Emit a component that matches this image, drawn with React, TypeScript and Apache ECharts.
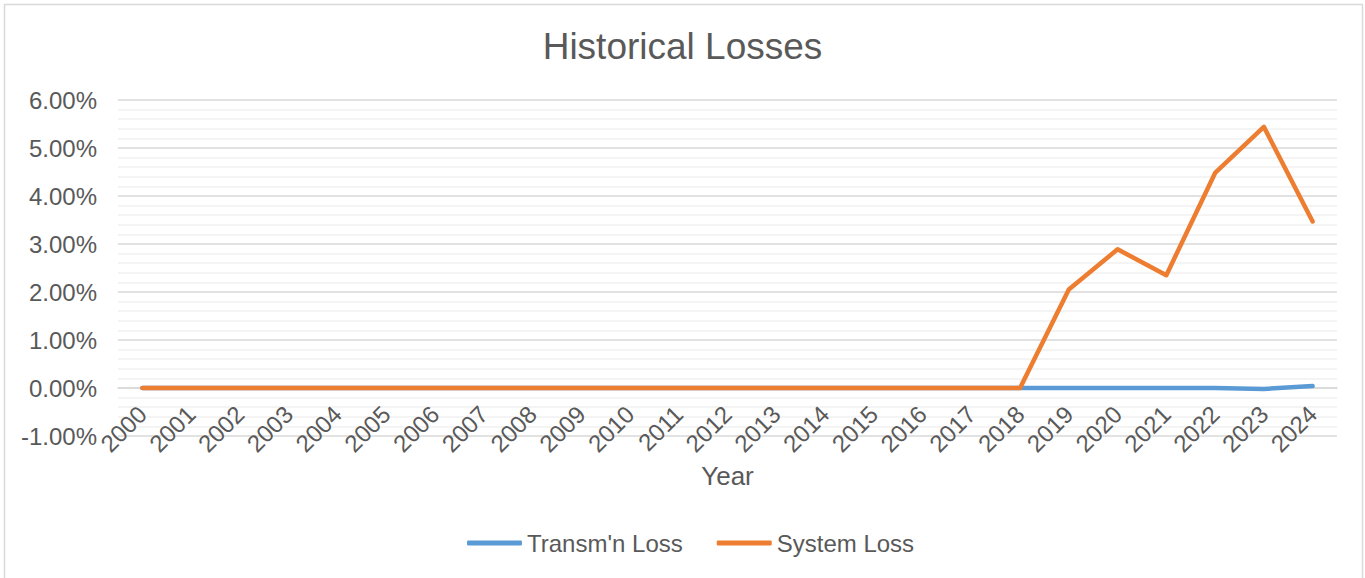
import React, { useEffect, useRef } from "react";
import * as echarts from "echarts";

const years = [
  "2000", "2001", "2002", "2003", "2004", "2005", "2006", "2007", "2008", "2009",
  "2010", "2011", "2012", "2013", "2014", "2015", "2016", "2017", "2018", "2019",
  "2020", "2021", "2022", "2023", "2024",
];

// values in percent
const transmLoss = [
  0, 0, 0, 0, 0, 0, 0, 0, 0, 0,
  0, 0, 0, 0, 0, 0, 0, 0, 0, 0,
  0, 0, 0, -0.02, 0.04,
];

const systemLoss = [
  0, 0, 0, 0, 0, 0, 0, 0, 0, 0,
  0, 0, 0, 0, 0, 0, 0, 0, 0, 2.05,
  2.89, 2.35, 4.48, 5.44, 3.47,
];

const seriesNames = ["Transm'n Loss", "System Loss"];
const titleText = "Historical Losses";
const xAxisName = "Year";

const FONT = "'Liberation Sans', Arial, sans-serif";
const TXT = "#595959";

export default function App() {
  const ref = useRef<HTMLDivElement>(null);

  useEffect(() => {
    if (!ref.current) return;
    const chart = echarts.init(ref.current, null, { renderer: "svg" });
    chart.setOption({
      animation: false,
      backgroundColor: "#ffffff",
      textStyle: { fontFamily: FONT, color: TXT },
      title: {
        text: titleText,
        left: "center",
        top: 23,
        textStyle: { fontFamily: FONT, fontSize: 37, fontWeight: "normal", color: TXT },
      },
      graphic: [
        {
          type: "rect",
          shape: { x: 4.5, y: 4.5, width: 1358, height: 600 },
          style: { fill: "none", stroke: "#d9d9d9", lineWidth: 1.5 },
          silent: true,
          z: -10,
        },
      ],
      legend: {
        left: 467,
        top: 531,
        padding: 0,
        icon: "roundRect",
        itemWidth: 55,
        itemHeight: 5,
        itemGap: 34,
        data: seriesNames,
        textStyle: { fontFamily: FONT, fontSize: 24, color: TXT },
      },
      grid: { left: 118, right: 28, top: 100, bottom: 142, containLabel: false },
      xAxis: {
        type: "category",
        data: years,
        boundaryGap: true,
        offset: -48,
        name: xAxisName,
        nameLocation: "middle",
        nameGap: 72,
        nameTextStyle: { fontFamily: FONT, fontSize: 26, color: TXT },
        axisLine: { show: true, onZero: false, lineStyle: { color: "#d9d9d9", width: 1.5 } },
        axisTick: { show: false },
        axisLabel: {
          rotate: 45,
          margin: 22,
          interval: 0,
          fontFamily: FONT,
          fontSize: 24,
          color: TXT,
        },
        splitLine: { show: false },
      },
      yAxis: {
        type: "value",
        min: -1,
        max: 6,
        interval: 1,
        axisLine: { show: false },
        axisTick: { show: false },
        axisLabel: {
          margin: 21,
          fontFamily: FONT,
          fontSize: 24,
          color: TXT,
          formatter: (v: number) => `${v.toFixed(2)}%`,
        },
        splitLine: { show: true, lineStyle: { color: "#d9d9d9", width: 1.5 } },
        minorTick: { show: false, splitNumber: 5 },
        minorSplitLine: { show: true, lineStyle: { color: "#f0f0f0", width: 1.5 } },
      },
      series: [
        {
          name: seriesNames[0],
          type: "line",
          data: transmLoss,
          symbol: "none",
          color: "#5B9BD5",
          lineStyle: { width: 4.5, color: "#5B9BD5", cap: "round", join: "round" },
          z: 2,
        },
        {
          name: seriesNames[1],
          type: "line",
          data: systemLoss,
          symbol: "none",
          color: "#ED7D31",
          lineStyle: { width: 4.5, color: "#ED7D31", cap: "round", join: "round" },
          z: 3,
        },
      ],
    });
    return () => chart.dispose();
  }, []);

  return (
    <div
      ref={ref}
      style={{ position: "fixed", left: 0, top: 0, width: 1365, height: 578 }}
    />
  );
}
